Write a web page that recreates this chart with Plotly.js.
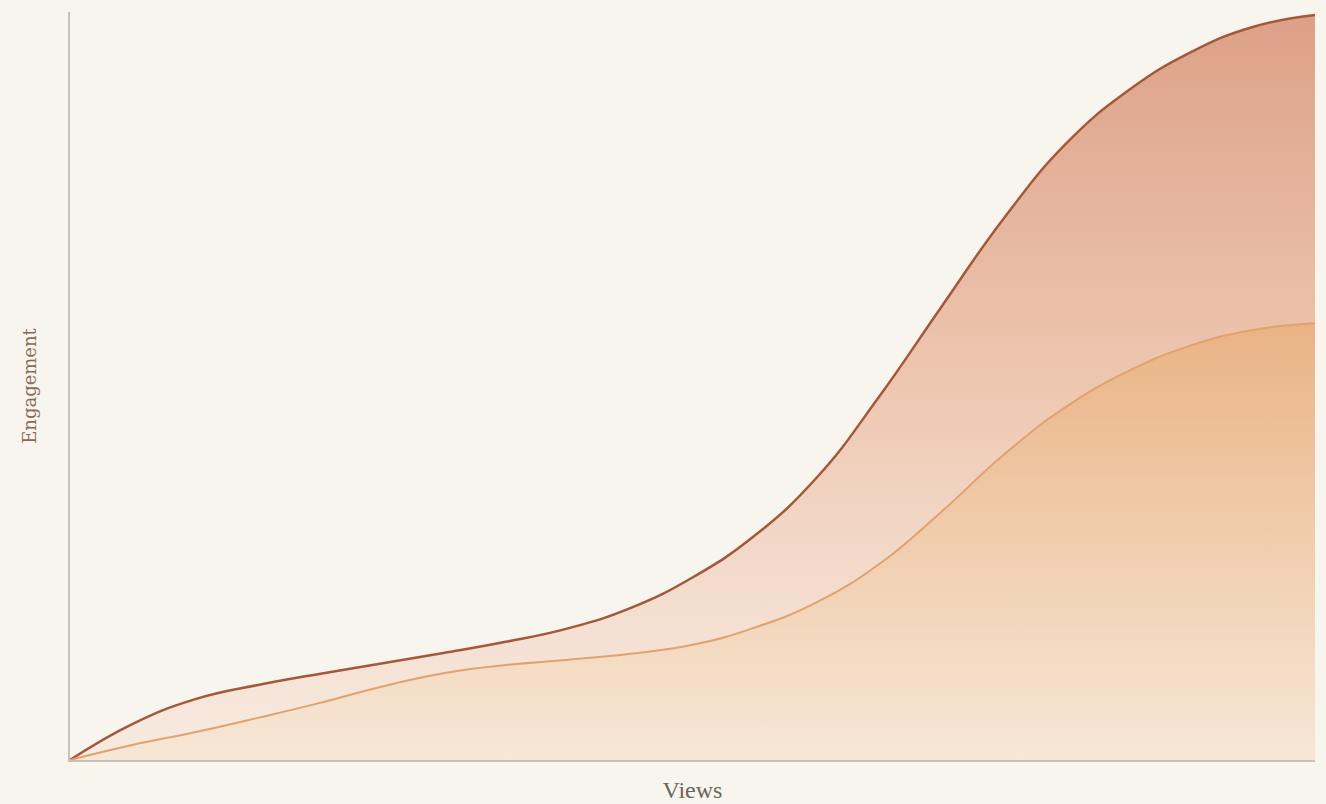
<!DOCTYPE html>
<html>
<head>
<meta charset="utf-8">
<script src="https://cdn.plot.ly/plotly-3.0.1.min.js"></script>
<style>
html,body{margin:0;padding:0;background:#f8f5ef;}
#chart{width:1326px;height:804px;}
</style>
</head>
<body>
<div id="chart"></div>
<script>
const views = [0, 5, 10, 15, 20, 25, 30, 35, 40, 45, 50, 55, 60, 65, 70, 75, 80, 85, 90, 95, 100];
const engagementTotal = [0, 4.8, 8.1, 10.0, 11.5, 12.9, 14.3, 15.8, 17.6, 20.3, 24.4, 30.0, 37.8, 48.6, 60.6, 72.4, 82.4, 89.5, 94.6, 98.0, 99.6];
const engagementBase = [0, 2.0, 3.7, 5.6, 7.6, 9.8, 11.6, 12.7, 13.4, 14.2, 15.4, 17.7, 21.1, 26.2, 33.2, 40.8, 47.2, 52.0, 55.4, 57.5, 58.4];

const traces = [
  {
    x: views, y: engagementTotal, type: 'scatter', mode: 'lines',
    line: {shape: 'spline', smoothing: 1.3, color: '#a4583a', width: 2.5},
    fill: 'tozeroy',
    fillgradient: {type: 'vertical', colorscale: [[0, 'rgba(247,230,218,0.7)'], [0.5, 'rgba(237,194,170,0.9)'], [1, 'rgba(219,156,130,0.95)']]},
    hoverinfo: 'skip'
  },
  {
    x: views, y: engagementBase, type: 'scatter', mode: 'lines',
    line: {shape: 'spline', smoothing: 1.3, color: '#e0a26e', width: 2},
    fill: 'tozeroy',
    fillgradient: {type: 'vertical', colorscale: [[0, 'rgba(247,230,212,0.85)'], [1, 'rgba(234,178,130,0.95)']]},
    hoverinfo: 'skip'
  }
];

const layout = {
  width: 1326, height: 804,
  paper_bgcolor: '#f8f5ef', plot_bgcolor: '#f8f5ef',
  margin: {l: 70, r: 11, t: 12, b: 44},
  showlegend: false,
  xaxis: {
    range: [0, 100], showgrid: false, zeroline: false, showticklabels: false, ticks: '',
    showline: true, linecolor: '#c9c0bc', linewidth: 2,
    title: {text: 'Views', font: {family: 'Liberation Serif, serif', size: 24, color: '#6b6560'}, standoff: 20}
  },
  yaxis: {
    range: [0, 100], showgrid: false, zeroline: false, showticklabels: false, ticks: '',
    showline: true, linecolor: '#c9c0bc', linewidth: 2,
    title: {text: 'Engagement', font: {family: 'DejaVu Serif, serif', size: 18, color: '#8b6a55'}, standoff: 27}
  }
};

Plotly.newPlot('chart', traces, layout, {displayModeBar: false, staticPlot: true});
</script>
</body>
</html>
